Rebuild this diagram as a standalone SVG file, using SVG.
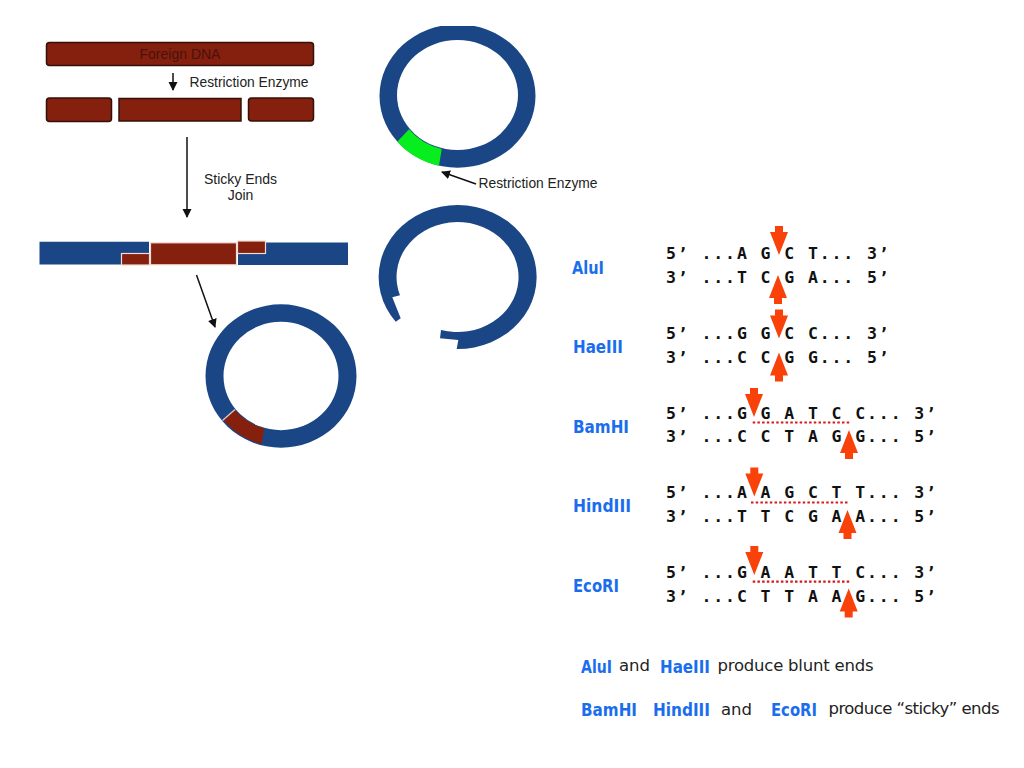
<svg xmlns="http://www.w3.org/2000/svg" width="1024" height="768" viewBox="0 0 1024 768">
<style>
.bar{fill:#85200f;stroke:#34100a;stroke-width:1.5}
.blue{fill:#1b4686}
.red{fill:#85200f}
.wl{fill:#85200f;stroke:#f0dcd6;stroke-width:1.2}
.cap{font-family:"Liberation Sans",Arial,sans-serif;font-size:14px;fill:#222}
.seq{font-family:"DejaVu Sans Mono","Liberation Mono",monospace;font-weight:700;font-size:16.5px;letter-spacing:1.89px;fill:#111;white-space:pre}
.enz{font-family:"DejaVu Sans","Liberation Sans",sans-serif;font-weight:700;font-size:18.5px;fill:#1a6eee}
.note{font-family:"DejaVu Sans",sans-serif;font-size:16.5px;fill:#222}
.wire{stroke:#111;stroke-width:1.5;fill:none}
.dots{stroke:#d41a1a;stroke-width:2.2;stroke-dasharray:2.5 2.2;fill:none}
.cut{fill:#f9410a}
</style>
<defs>
<marker id="ah" markerWidth="9" markerHeight="10" refX="8" refY="4.500" orient="auto" markerUnits="userSpaceOnUse"><path d="M0 0L9 4.500L0 9Z" fill="#111"/></marker>
<polygon id="dn" points="0,0 -9,-23 -4,-23 -4,-29 4,-29 4,-23 9,-23"/>
<polygon id="up" points="0,0 -9,23 -4,23 -4,29 4,29 4,23 9,23"/>
<clipPath id="topclip"><rect x="370" y="26" width="180" height="150"/></clipPath>
</defs>
<rect width="1024" height="768" fill="#fff"/>

<g id="foreign-dna"><rect class="bar" x="46.500" y="42.500" width="267" height="23" rx="3"/><text x="180" y="59" text-anchor="middle" style="font-family:'Liberation Sans',Arial,sans-serif;font-size:14px;fill:#4a120c">Foreign DNA</text></g>
<g id="fragment-left"><rect class="bar" x="46.500" y="98" width="65" height="23.500" rx="3"/></g>
<g id="fragment-middle"><rect class="bar" x="119" y="98.500" width="122" height="22.500"/></g>
<g id="fragment-right"><rect class="bar" x="248.500" y="98" width="65" height="23" rx="3"/></g>
<g id="label-enzyme-1"><text class="cap" x="189.500" y="86.500" textLength="119" lengthAdjust="spacingAndGlyphs">Restriction Enzyme</text></g>
<g id="label-sticky"><text class="cap" x="240.500" y="183.500" text-anchor="middle">Sticky Ends</text><text class="cap" x="240.500" y="199.500" text-anchor="middle">Join</text></g>

<g id="joined-dna">
<path class="blue" d="M39.500 241.700H149V254H122V264.500H39.500Z"/>
<path class="blue" d="M265 242.500H348V265H238V254H265Z"/>
<rect class="wl" x="121.500" y="253.500" width="28" height="11.500"/>
<rect class="wl" x="150.500" y="242.800" width="86" height="22"/>
<rect class="wl" x="237.500" y="241" width="28" height="12.500"/>
</g>

<g id="plasmid-top" clip-path="url(#topclip)">
<path class="blue" fill-rule="evenodd" d="M379.500 96a78 71.700 0 1 0 156 0a78 71.700 0 1 0-156 0ZM397 95a60.500 55 0 1 0 121 0a60.500 55 0 1 0-121 0Z"/>
<path d="M397.300 141.700A78 71.700 0 0 0 439 165.700L441.700 149A60.500 55 0 0 1 409 129.300Z" fill="#06ee1e"/>
</g>
<g id="plasmid-cut"><path class="blue" d="M395.700 321.700A79 72 0 1 1 456.700 349L458.300 340L440 338.300L441 330A61 55 0 1 0 400 295.300L392.300 297.300L400.700 318.300Z"/></g>
<g id="plasmid-joined">
<path class="blue" fill-rule="evenodd" d="M205.500 376a75.500 71.700 0 1 0 151 0a75.500 71.700 0 1 0-151 0ZM223.500 376a57.500 54.200 0 1 0 115 0a57.500 54.200 0 1 0-115 0Z"/>
<path class="red" d="M223.300 420A75.500 71.700 0 0 0 261.700 444.300L264.300 428.300A57.500 54.200 0 0 1 235 410Z"/>
<path d="M222.500 420.500L235 409.500" stroke="#e4c6c6" stroke-width="1.300" fill="none"/>
</g>
<g id="label-enzyme-2"><text class="cap" x="478.500" y="187.500" textLength="119" lengthAdjust="spacingAndGlyphs">Restriction Enzyme</text></g>

<g id="connectors">
<path class="wire" marker-end="url(#ah)" d="M173 73V90"/>
<path class="wire" marker-end="url(#ah)" d="M187 137V217"/>
<path class="wire" marker-end="url(#ah)" d="M196.500 275L215 327"/>
<path class="wire" marker-end="url(#ah)" d="M476 184L442 172"/>
</g>

<g id="enzyme-alui">
<text class="enz" x="572" y="274" textLength="32" lengthAdjust="spacingAndGlyphs">AluI</text>
<text class="seq" x="666" y="259">5’ ...A G C T... 3’</text>
<text class="seq" x="666" y="283">3’ ...T C G A... 5’</text>
<use href="#dn" class="cut" x="779" y="255"/><use href="#up" class="cut" x="778" y="275"/>
</g>
<g id="enzyme-haeiii">
<text class="enz" x="573" y="353" textLength="50" lengthAdjust="spacingAndGlyphs">HaeIII</text>
<text class="seq" x="666" y="339">5’ ...G G C C... 3’</text>
<text class="seq" x="666" y="362.500">3’ ...C C G G... 5’</text>
<use href="#dn" class="cut" x="779" y="338.500"/><use href="#up" class="cut" x="779" y="352.500"/>
</g>
<g id="enzyme-bamhi">
<text class="enz" x="573" y="433" textLength="56" lengthAdjust="spacingAndGlyphs">BamHI</text>
<text class="seq" x="666" y="418.500">5’ ...G G A T C C... 3’</text>
<text class="seq" x="666" y="442">3’ ...C C T A G G... 5’</text>
<path class="dots" d="M752.700 422.500H850"/>
<use href="#dn" class="cut" x="754" y="417"/><use href="#up" class="cut" x="849" y="430"/>
</g>
<g id="enzyme-hindiii">
<text class="enz" x="573" y="512" textLength="58" lengthAdjust="spacingAndGlyphs">HindIII</text>
<text class="seq" x="666" y="498">5’ ...A A G C T T... 3’</text>
<text class="seq" x="666" y="521.500">3’ ...T T C G A A... 5’</text>
<path class="dots" d="M751 502.500H848.700"/>
<use href="#dn" class="cut" x="754.300" y="496.500"/><use href="#up" class="cut" x="847.500" y="510"/>
</g>
<g id="enzyme-ecori">
<text class="enz" x="573" y="592" textLength="46" lengthAdjust="spacingAndGlyphs">EcoRI</text>
<text class="seq" x="666" y="578">5’ ...G A A T T C... 3’</text>
<text class="seq" x="666" y="601.500">3’ ...C T T A A G... 5’</text>
<path class="dots" d="M752.700 581.700H850"/>
<use href="#dn" class="cut" x="754.300" y="575"/><use href="#up" class="cut" x="848.700" y="588.500"/>
</g>

<g id="note-blunt">
<text class="enz" x="581" y="673" textLength="31" lengthAdjust="spacingAndGlyphs">AluI</text>
<text class="note" x="619" y="671" textLength="31">and</text>
<text class="enz" x="660" y="673" textLength="50" lengthAdjust="spacingAndGlyphs">HaeIII</text>
<text class="note" x="717.500" y="671" textLength="156">produce blunt ends</text>
</g>
<g id="note-sticky">
<text class="enz" x="581" y="716" textLength="56" lengthAdjust="spacingAndGlyphs">BamHI</text>
<text class="enz" x="653" y="716" textLength="57" lengthAdjust="spacingAndGlyphs">HindIII</text>
<text class="note" x="721" y="715" textLength="31">and</text>
<text class="enz" x="771" y="716" textLength="46" lengthAdjust="spacingAndGlyphs">EcoRI</text>
<text class="note" x="828.500" y="714" textLength="171">produce “sticky” ends</text>
</g>
</svg>
